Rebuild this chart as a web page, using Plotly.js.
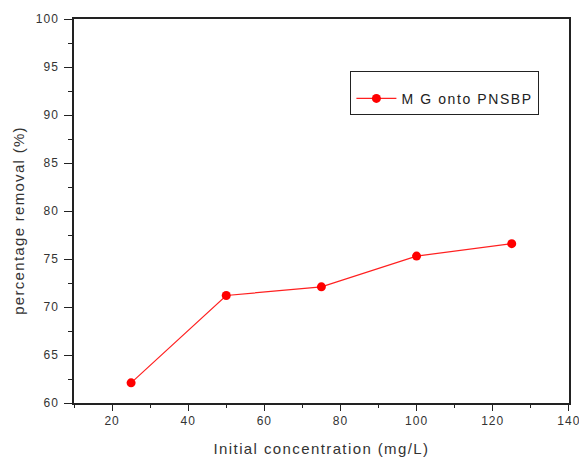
<!DOCTYPE html>
<html><head><meta charset="utf-8">
<script src="https://cdn.plot.ly/plotly-3.0.1.min.js"></script>
<style>body{margin:0;background:#fff}#c{width:579px;height:457px}
.legendtext{letter-spacing:1.6px}
.xtick text,.ytick text{letter-spacing:1px}
.xtitle{letter-spacing:1.4px}
.annotation-text{letter-spacing:1.3px}
</style>
</head><body><div id="c"></div>
<script>
const concentration = [25, 50, 75, 100, 125];
const removal = [62.1, 71.2, 72.1, 75.3, 76.6];
const seriesName = "M G onto PNSBP";
const xTitle = "Initial concentration (mg/L)";
const yTitle = "percentage removal (%)";

const fontFam = "Liberation Sans, Arial, sans-serif";
const tickFont = {family: fontFam, size: 12, color: "#333"};
const axisBase = {
  showgrid: false, zeroline: false, showline: true, linecolor: "#222", linewidth: 1.5,
  mirror: true, ticks: "outside", tickwidth: 1.3, tickcolor: "#222",
  tickfont: tickFont, ticklabeloverflow: "allow"
};
const data = [{
  x: concentration, y: removal, name: seriesName, type: "scatter", mode: "lines+markers",
  line: {color: "#ff2020", width: 1.2},
  marker: {color: "#ff0000", size: 9, symbol: "circle"}
}];
const layout = {
  width: 579, height: 457,
  margin: {l: 74, r: 10, t: 19, b: 54},
  paper_bgcolor: "#fff", plot_bgcolor: "#fff",
  showlegend: true,
  legend: {x: 0.558, y: 0.864, xanchor: "left", yanchor: "top", bordercolor: "#222", borderwidth: 1.2,
    bgcolor: "#fff", itemwidth: 40,
    font: {family: fontFam, size: 14, color: "#222"},
    title: {text: " ", font: {size: 8}}},
  xaxis: Object.assign({}, axisBase, {range: [10, 140.05], tickvals: [20, 40, 60, 80, 100, 120, 140],
    ticklen: 6,
    minor: {ticks: "outside", dtick: 10, tick0: 10, ticklen: 3, tickwidth: 1.2, tickcolor: "#222"},
    title: {text: xTitle, font: {family: fontFam, size: 15, color: "#333"}, standoff: 16}}),
  yaxis: Object.assign({}, axisBase, {range: [60, 100], dtick: 5, ticklen: 8, ticklabelstandoff: 3,
    minor: {ticks: "outside", dtick: 2.5, ticklen: 4, tickwidth: 1.2, tickcolor: "#222"}}),
  annotations: [{
    text: yTitle, textangle: -90, xref: "paper", yref: "paper", x: -0.112, y: 0.476,
    xanchor: "center", yanchor: "middle", showarrow: false,
    font: {family: fontFam, size: 15, color: "#333"}
  }]
};
Plotly.newPlot("c", data, layout, {displayModeBar: false});
</script></body></html>
